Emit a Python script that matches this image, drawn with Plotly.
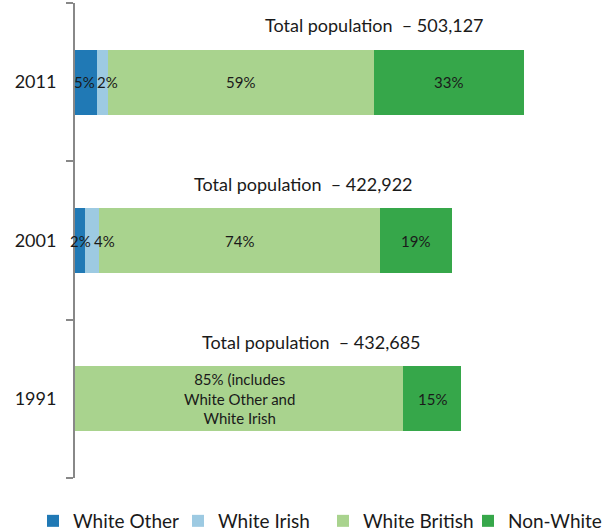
import plotly.graph_objects as go

years = ["1991", "2001", "2011"]
totals = [432685, 422922, 503127]
series_names = ["White Other", "White Irish", "White British", "Non-White"]
pct_other = [0, 2.6, 4.9]
pct_irish = [0, 3.7, 2.4]
pct_british = [85, 74.4, 59.3]
pct_nonwhite = [15, 19.3, 33.4]
label_other = ["", "2%", "5%"]
label_irish = ["", "4%", "2%"]
label_british = ["85% (includes<br>White Other and<br>White Irish", "74%", "59%"]
label_nonwhite = ["15%", "19%", "33%"]
total_labels = ["Total population  \u2013 432,685", "Total population  \u2013 422,922", "Total population  \u2013 503,127"]

colors = ["#2079B5", "#9DCAE2", "#A9D38E", "#36A74A"]
FONT = "Lato"

# small pixel nudges for the crowded narrow-segment labels (series index, year index) -> px
label_nudge = {(0, 1): 1, (0, 2): -2, (1, 1): 13, (1, 2): 5}

pcts = [pct_other, pct_irish, pct_british, pct_nonwhite]
labels = [label_other, label_irish, label_british, label_nonwhite]

fig = go.Figure()
cum = [0.0] * len(years)
annotations = []
for s, (name, pc, lab, col) in enumerate(zip(series_names, pcts, labels, colors)):
    vals = [t * p / 100 for t, p in zip(totals, pc)]
    fig.add_trace(go.Bar(
        y=years, x=vals, name=name, orientation="h",
        marker=dict(color=col, line=dict(width=0)),
        width=0.41, hoverinfo="skip",
    ))
    for i, (v, l) in enumerate(zip(vals, lab)):
        if l:
            annotations.append(dict(
                x=cum[i] + v / 2, y=i, xref="x", yref="y", text=l,
                xshift=label_nudge.get((s, i), 0),
                showarrow=False, font=dict(family=FONT, size=15, color="#1a1a1a"),
                xanchor="center", yanchor="middle",
            ))
        cum[i] += v

total_label_x = [0.460, 0.445, 0.583]
for i, t in enumerate(total_labels):
    annotations.append(dict(
        x=total_label_x[i], y=i + 0.36, xref="paper", yref="y", text=t,
        showarrow=False, font=dict(family=FONT, size=18, color="#1a1a1a"),
        xanchor="center", yanchor="middle",
    ))

fig.update_layout(
    width=604, height=531,
    margin=dict(l=75, r=15, t=3, b=53, autoexpand=False),
    plot_bgcolor="white", paper_bgcolor="white",
    barmode="stack",
    showlegend=True,
    legend=dict(orientation="h", x=-0.0817, xref="paper", xanchor="left",
                y=-0.0905, yref="paper", yanchor="middle",
                traceorder="normal", font=dict(family=FONT, size=19, color="#1a1a1a"),
                entrywidth=100, entrywidthmode="pixels", itemwidth=30,
                bgcolor="rgba(0,0,0,0)"),
    annotations=annotations,
    font=dict(family=FONT),
)
fig.update_xaxes(range=[0, 576000], visible=False, showgrid=False, zeroline=False)
fig.update_yaxes(
    type="category", categoryorder="array", categoryarray=years,
    range=[-0.5, 2.5], showline=True, linecolor="#888888", linewidth=2,
    ticks="outside", tickson="boundaries", ticklen=7, tickcolor="#888888", tickwidth=2,
    tickfont=dict(family=FONT, size=18, color="#1a1a1a"), showgrid=False, zeroline=False,
    ticklabelstandoff=13, automargin=False,
)
fig.write_html("out.html", config={"displayModeBar": False},
               post_script="document.body.style.margin='0';")
